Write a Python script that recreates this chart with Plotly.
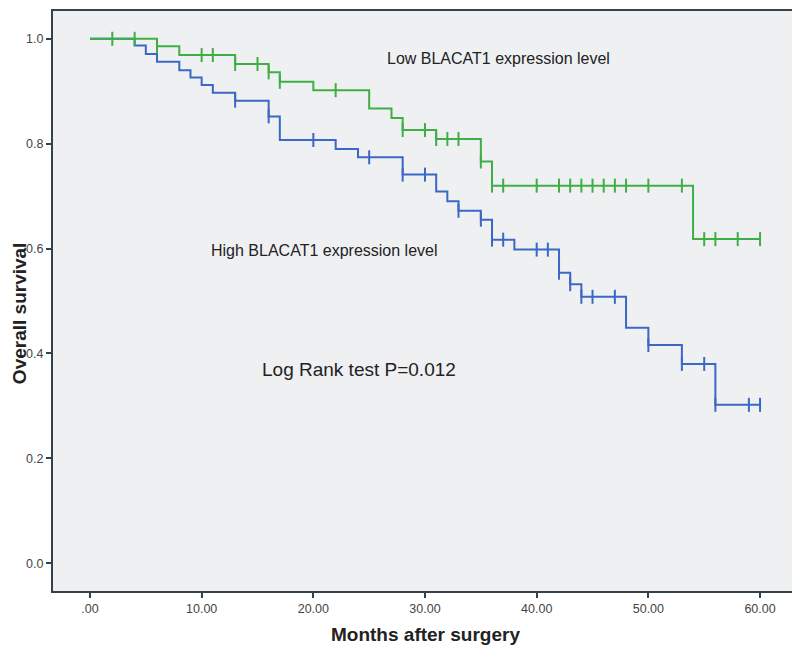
import plotly.graph_objects as go
import numpy as np

# Low BLACAT1 expression (green)
low_times = [0, 6, 8, 13, 16, 17, 20, 25, 27, 28, 31, 35, 36, 54, 60]
low_surv = [1.0, 0.986, 0.969, 0.952, 0.936, 0.918, 0.902, 0.867, 0.849, 0.826, 0.809, 0.766, 0.720, 0.618, 0.618]
low_censor = [2, 4, 6, 10, 11, 13, 15, 16, 17, 22, 28, 30, 31, 32, 33, 35, 36, 37, 40, 42, 43, 44,
              45, 46, 47, 48, 50, 53, 55, 56, 58, 60]

# High BLACAT1 expression (blue)
high_times = [0, 4, 5, 6, 8, 9, 10, 11, 13, 16, 17, 22, 24, 28, 31, 32, 33, 35, 36, 38, 42, 43, 44,
              48, 50, 53, 56, 60]
high_surv = [1.0, 0.987, 0.971, 0.956, 0.940, 0.926, 0.912, 0.897, 0.882, 0.852, 0.807, 0.790, 0.774,
             0.741, 0.709, 0.690, 0.672, 0.655, 0.617, 0.598, 0.554, 0.532, 0.508, 0.449, 0.416,
             0.380, 0.302, 0.302]
high_censor = [13, 16, 20, 25, 28, 30, 33, 35, 36, 37, 40, 41, 42, 43, 44, 45, 47, 50, 53, 55, 56, 59, 60]

x_ticks = [0, 10, 20, 30, 40, 50, 60]
x_tick_labels = [".00", "10.00", "20.00", "30.00", "40.00", "50.00", "60.00"]
y_ticks = [0, 0.2, 0.4, 0.6, 0.8, 1.0]
y_tick_labels = ["0.0", "0.2", "0.4", "0.6", "0.8", "1.0"]

GREEN = "#3fae45"
BLUE = "#3b68c6"


def surv_at(times, surv, t):
    idx = np.searchsorted(times, t, side="right") - 1
    return surv[idx]


fig = go.Figure()

for times, surv, censor, color in [
    (high_times, high_surv, high_censor, BLUE),
    (low_times, low_surv, low_censor, GREEN),
]:
    fig.add_trace(go.Scatter(x=times, y=surv, mode="lines", line=dict(color=color, width=2, shape="hv"),
                             showlegend=False, hoverinfo="skip"))
    fig.add_trace(go.Scatter(x=censor, y=[surv_at(times, surv, t) for t in censor], mode="markers",
                             marker=dict(symbol="line-ns", size=10, line=dict(color=color, width=2)),
                             showlegend=False))

txt = dict(family="Liberation Sans, Arial, sans-serif", color="#222222")
fig.add_annotation(x=36.6, y=0.963, text="Low BLACAT1 expression level", showarrow=False,
                   font=dict(size=16, **txt))
fig.add_annotation(x=20.95, y=0.597, text="High BLACAT1 expression level", showarrow=False,
                   font=dict(size=16, **txt))
fig.add_annotation(x=24.1, y=0.369, text="Log Rank test P=0.012", showarrow=False,
                   font=dict(size=19, **txt))
fig.add_annotation(xref="paper", yref="paper", x=0.503, y=-0.0756, text="<b>Months after surgery</b>",
                   xanchor="center", yanchor="middle", showarrow=False, font=dict(size=19, **txt))
fig.add_annotation(xref="paper", yref="paper", x=-0.046, y=0.479, text="<b>Overall survival</b>",
                   xanchor="center", yanchor="middle", textangle=-90, showarrow=False, borderpad=0,
                   font=dict(size=19, **txt))

axis_common = dict(showline=True, linecolor="#33434d", linewidth=2, mirror=True, showgrid=False,
                   zeroline=False, ticks="outside", ticklen=5, tickwidth=1.5, tickcolor="#33434d",
                   tickfont=dict(family="Liberation Sans, Arial, sans-serif", size=12.5, color="#444444"))
fig.update_xaxes(range=[-3.31, 62.95], tickvals=x_ticks, ticktext=x_tick_labels, **axis_common)
fig.update_yaxes(range=[-0.053, 1.053], tickvals=y_ticks, ticktext=y_tick_labels, **axis_common)

fig.update_layout(width=792, height=639, margin=dict(l=45, r=7, t=1, b=56),
                  plot_bgcolor="#eff0f2", paper_bgcolor="white")

fig.write_html("out.html")
